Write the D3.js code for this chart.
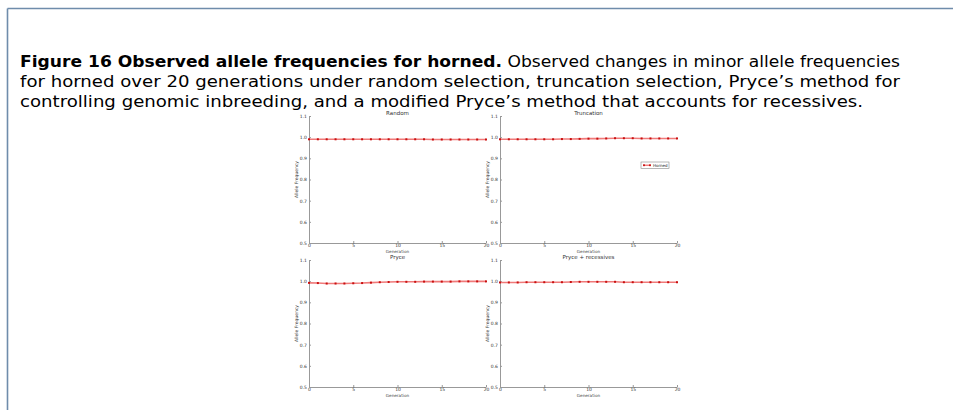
<!DOCTYPE html>
<html>
<head>
<meta charset="utf-8">
<script src="https://cdn.jsdelivr.net/npm/d3@7"></script>
<style>
  body { margin: 0; background: #fff; }
  svg { display: block; }
  .tick text { font-family: "DejaVu Sans", sans-serif; fill: #333; }
</style>
</head>
<body>
<div class="chart"></div>
<script>
// data: minor allele frequency for horned, generations 0-20
let generations = d3.range(0, 21);
let panelTitles = ["Random", "Truncation", "Pryce", "Pryce + recessives"];
let randomFreq = [0.990, 0.990, 0.990, 0.990, 0.990, 0.990, 0.990, 0.990, 0.990, 0.990, 0.990,
  0.990, 0.990, 0.990, 0.989, 0.989, 0.989, 0.989, 0.989, 0.989, 0.989];
let truncationFreq = [0.990, 0.990, 0.990, 0.990, 0.990, 0.990, 0.990, 0.991, 0.991, 0.992, 0.993,
  0.993, 0.994, 0.995, 0.995, 0.995, 0.994, 0.994, 0.994, 0.994, 0.994];
let pryceFreq = [0.992, 0.991, 0.989, 0.989, 0.989, 0.990, 0.991, 0.993, 0.995, 0.996, 0.997,
  0.997, 0.997, 0.998, 0.998, 0.998, 0.998, 0.999, 0.999, 0.999, 0.999];
let pryceRecFreq = [0.994, 0.994, 0.994, 0.995, 0.995, 0.995, 0.995, 0.995, 0.996, 0.997, 0.997,
  0.997, 0.997, 0.997, 0.995, 0.995, 0.995, 0.995, 0.995, 0.995, 0.995];
let xTicks = [0, 5, 10, 15, 20];
let yTicks = [0.5, 0.6, 0.7, 0.8, 0.9, 1.0, 1.1];
let seriesName = "Horned";

let svgWidth = 953;
let svgHeight = 410;

let svg = d3.select(".chart")
  .append("svg")
  .attr("width", svgWidth)
  .attr("height", svgHeight);

// frame lines (top and left only)
svg.append("line")
  .attr("x1", 7.5).attr("x2", svgWidth).attr("y1", 8.5).attr("y2", 8.5)
  .attr("stroke", "#6f8cab").attr("stroke-width", 1.6);
svg.append("line")
  .attr("x1", 7.5).attr("x2", 7.5).attr("y1", 8.5).attr("y2", svgHeight)
  .attr("stroke", "#6f8cab").attr("stroke-width", 1.6);

// caption
let captionLines = [
  { bold: "Figure 16  Observed allele frequencies for horned.", rest: " Observed changes in minor allele frequencies", y: 67, len: 880 },
  { bold: "", rest: "for horned over 20 generations under random selection, truncation selection, Pryce\u2019s method for", y: 87, len: 880 },
  { bold: "", rest: "controlling genomic inbreeding, and a modified Pryce\u2019s method that accounts for recessives.", y: 107, len: 843 }
];
captionLines.forEach(function(c) {
  let t = svg.append("text")
    .attr("x", 20)
    .attr("y", c.y)
    .attr("textLength", c.len)
    .attr("lengthAdjust", "spacingAndGlyphs")
    .style("font-family", "'DejaVu Sans', sans-serif")
    .style("font-size", "16.5px")
    .attr("fill", "#000");
  if (c.bold) t.append("tspan").style("font-weight", "bold").text(c.bold);
  t.append("tspan").text(c.rest);
});

// the four small panels
let panels = [
  { title: panelTitles[0], values: randomFreq, left: 309, top: 116, legend: false },
  { title: panelTitles[1], values: truncationFreq, left: 500, top: 116, legend: true },
  { title: panelTitles[2], values: pryceFreq, left: 309, top: 260, legend: false },
  { title: panelTitles[3], values: pryceRecFreq, left: 500, top: 260, legend: false }
];
let panelW = 177;
let panelH = 127;

panels.forEach(function(p) {
  let g = svg.append("g").attr("transform", `translate(${p.left}, ${p.top})`);

  let x = d3.scaleLinear().domain([0, 20]).range([0, panelW]);
  let y = d3.scaleLinear().domain([0.5, 1.1]).range([panelH, 0]);

  let xAxis = g.append("g")
    .attr("transform", `translate(0, ${panelH})`)
    .call(d3.axisBottom(x).tickValues(xTicks).tickFormat(d3.format("d"))
      .tickSizeInner(-2).tickSizeOuter(0).tickPadding(2));
  let yAxis = g.append("g")
    .call(d3.axisLeft(y).tickValues(yTicks).tickFormat(d3.format(".1f"))
      .tickSizeInner(-2).tickSizeOuter(0).tickPadding(2));

  [xAxis, yAxis].forEach(function(a) {
    a.select(".domain").attr("stroke", "#999").attr("stroke-width", 1);
    a.selectAll(".tick line").attr("stroke", "#999");
    a.selectAll(".tick text").style("font-size", "4.5px");
  });
  xAxis.selectAll(".tick text").attr("dy", "0.5em");

  // axis labels and title
  g.append("text")
    .attr("x", panelW / 2)
    .attr("y", panelH + 10)
    .attr("text-anchor", "middle")
    .style("font-family", "DejaVu Sans, sans-serif")
    .style("font-size", "4.2px")
    .attr("fill", "#444")
    .text("Generation");
  g.append("text")
    .attr("transform", "rotate(-90)")
    .attr("x", -panelH / 2)
    .attr("y", -11)
    .attr("text-anchor", "middle")
    .style("font-family", "DejaVu Sans, sans-serif")
    .style("font-size", "4.5px")
    .attr("fill", "#444")
    .text("Allele Frequency");
  g.append("text")
    .attr("x", panelW / 2)
    .attr("y", -1.5)
    .attr("text-anchor", "middle")
    .style("font-family", "DejaVu Sans, sans-serif")
    .style("font-size", "5.5px")
    .attr("fill", "#333")
    .text(p.title);

  // series
  let pts = generations.map((gen, i) => ({ gen: gen, v: p.values[i] }));
  g.append("path")
    .datum(pts)
    .attr("fill", "none")
    .attr("stroke", "#f07a7a")
    .attr("stroke-width", 1.6)
    .attr("d", d3.line().x(d => x(d.gen)).y(d => y(d.v)));
  g.selectAll("rect.pt")
    .data(pts)
    .enter()
    .append("rect")
    .attr("class", "pt")
    .attr("x", d => x(d.gen) - 1)
    .attr("y", d => y(d.v) - 1)
    .attr("width", 2)
    .attr("height", 2)
    .attr("fill", "#c81010");

  if (p.legend) {
    let lg = g.append("g").attr("transform", `translate(${141}, ${46})`);
    lg.append("rect")
      .attr("width", 28).attr("height", 6.5)
      .attr("fill", "#fff").attr("stroke", "#888").attr("stroke-width", 0.6);
    lg.append("line")
      .attr("x1", 2).attr("x2", 10).attr("y1", 3.25).attr("y2", 3.25)
      .attr("stroke", "#f07a7a").attr("stroke-width", 1.4);
    [3, 9].forEach(function(mx) {
      lg.append("rect")
        .attr("x", mx - 0.9).attr("y", 2.35).attr("width", 1.8).attr("height", 1.8)
        .attr("fill", "#c81010");
    });
    lg.append("text")
      .attr("x", 12).attr("y", 4.8)
      .style("font-family", "DejaVu Sans, sans-serif")
      .style("font-size", "4px")
      .attr("fill", "#222")
      .text(seriesName);
  }
});
</script>
</body>
</html>
